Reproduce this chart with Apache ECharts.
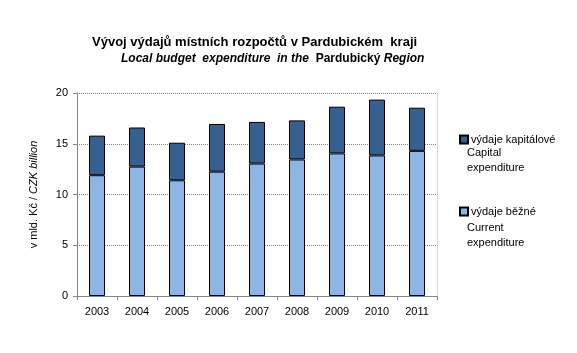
<!DOCTYPE html>
<html>
<head>
<meta charset="utf-8">
<script src="https://cdn.jsdelivr.net/npm/echarts@6/dist/echarts.min.js"></script>
<style>
  html, body { margin: 0; padding: 0; background: #fff; }
  #chart { width: 577px; height: 353px; }
</style>
</head>
<body>
<div id="chart"></div>
<script>
const years = ['2003', '2004', '2005', '2006', '2007', '2008', '2009', '2010', '2011'];
const currentExp = [11.9, 12.75, 11.4, 12.25, 13.05, 13.45, 14.05, 13.85, 14.3];
const capitalExp = [3.9, 3.85, 3.7, 4.7, 4.1, 3.85, 4.6, 5.5, 4.25];
const yTicks = [0, 5, 10, 15, 20];

const font = 'Liberation Sans, Arial, sans-serif';
const myChart = echarts.init(document.getElementById('chart'));

const option = {
  animation: false,
  title: [
    {
      text: 'Vývoj výdajů místních rozpočtů v Pardubickém  kraji',
      left: 87,
      top: 31,
      textStyle: { fontFamily: font, fontSize: 13, fontWeight: 'bold', color: '#000' }
    },
    {
      text: '{i|Local budget  expenditure  in the  }{n|Pardubický }{i|Region}',
      left: 116,
      top: 48,
      textStyle: {
        rich: {
          i: { fontFamily: font, fontSize: 12, fontStyle: 'italic', color: '#000' },
          n: { fontFamily: font, fontSize: 12, color: '#000' }
        }
      }
    }
  ],
  legend: {
    orient: 'vertical',
    left: 454,
    top: 129,
    itemWidth: 8,
    itemHeight: 8,
    itemGap: 61,
    icon: 'rect',
    data: ['výdaje kapitálové', 'výdaje běžné'],
    textStyle: { fontFamily: font, fontSize: 11, color: '#000', padding: [0, 0, 0, -2] }
  },
  graphic: [
    {
      type: 'text', left: 467, top: 145,
      style: { text: 'Capital\nexpenditure', fontFamily: font, fontSize: 11, lineHeight: 15, fill: '#000' }
    },
    {
      type: 'text', left: 467, top: 220,
      style: { text: 'Current\nexpenditure', fontFamily: font, fontSize: 11, lineHeight: 15, fill: '#000' }
    }
  ],
  grid: { left: 77, right: 140, top: 93, bottom: 57 },
  xAxis: {
    type: 'category',
    data: years,
    axisLine: { lineStyle: { color: '#868686' } },
    axisTick: { show: true, length: 4, lineStyle: { color: '#868686' } },
    axisLabel: { fontFamily: font, fontSize: 11, color: '#000', margin: 10 }
  },
  yAxis: [
    {
      type: 'value',
      min: yTicks[0],
      max: yTicks[yTicks.length - 1],
      interval: 5,
      name: '{a|v mld. Kč / }{b|CZK billion}',
      nameLocation: 'middle',
      nameGap: 38,
      nameTextStyle: {
        rich: {
          a: { fontFamily: font, fontSize: 11, color: '#000' },
          b: { fontFamily: font, fontSize: 11, fontStyle: 'italic', color: '#000' }
        }
      },
      axisLine: { show: true, lineStyle: { color: '#868686' } },
      axisTick: { show: true, length: 4, lineStyle: { color: '#868686' } },
      axisLabel: { fontFamily: font, fontSize: 11, color: '#000', margin: 9 },
      splitLine: { lineStyle: { color: '#868686', type: 'dotted' } }
    },
    {
      type: 'value',
      position: 'right',
      min: 0,
      max: 20,
      interval: 5,
      axisLine: { show: true, lineStyle: { color: '#d9d9d9' } },
      axisTick: { show: false },
      axisLabel: { show: false },
      splitLine: { show: false }
    }
  ],
  series: [
    {
      name: 'výdaje běžné',
      type: 'bar',
      stack: 'total',
      data: currentExp,
      barWidth: 16,
      itemStyle: { color: '#8EB4E3', borderColor: '#000', borderWidth: 1 }
    },
    {
      name: 'výdaje kapitálové',
      type: 'bar',
      stack: 'total',
      data: capitalExp,
      barWidth: 16,
      itemStyle: { color: '#376092', borderColor: '#000', borderWidth: 1 }
    }
  ]
};

myChart.setOption(option);
</script>
</body>
</html>
